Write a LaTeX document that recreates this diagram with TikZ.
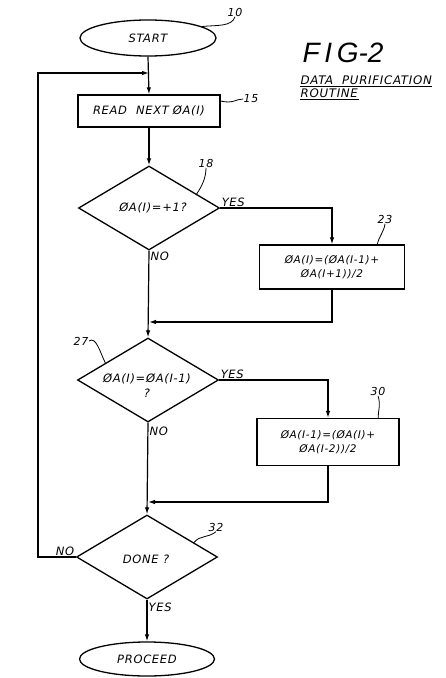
\documentclass[tikz,border=0pt]{standalone}
\usepackage{fontspec}
\setmainfont{DejaVu Sans}[LetterSpace=6]
\newfontfamily\figfont{Liberation Sans}
\usetikzlibrary{shapes.geometric,arrows.meta,calc}
\newcommand{\handsize}{\fontsize{11.5}{14}\selectfont}
\newcommand{\formsize}{\fontsize{10.5}{14}\selectfont}
\tikzset{
        every path/.style={line width=1.2pt},
        startstop/.style={ellipse, draw=black, line width=1.3pt, minimum width=136pt, minimum height=36pt, inner sep=0pt, font=\itshape\handsize},
        procbox/.style={rectangle, draw=black, line width=1.3pt, inner sep=2pt, align=center, font=\itshape\formsize},
        decision/.style={diamond, draw=black, line width=1.3pt, inner sep=0pt, minimum width=141pt, minimum height=84pt},
        flowtext/.style={inner sep=0pt, align=center, font=\itshape\handsize},
        flowline/.style={draw=black, line width=1.2pt},
        flowarrow/.style={flowline, -{Latex[length=7pt,width=4.5pt]}},
        answer/.style={inner sep=1pt, font=\itshape\fontsize{11.5}{13}\selectfont},
        refnum/.style={inner sep=0pt, font=\itshape\fontsize{11}{13}\selectfont},
        leader/.style={draw=black, line width=0.8pt},
        caption/.style={inner sep=0pt, font=\itshape\fontsize{11.8}{13}\selectfont}
          }

\begin{document}
\begin{tikzpicture}[x=1pt,y=-1pt]
        \useasboundingbox (0,0) rectangle (446,678);
        % blocks
        \node[startstop] (start) at (148,38) {START};
        \node[procbox, font=\itshape\handsize, minimum width=142pt, minimum height=32pt] (read) at (149,111) {READ\hspace{9pt}NEXT\hspace{4pt}ØA(I)};
        \node[decision] (d18) at (149,208) {};
        \node[flowtext] (t18) at (153,208) {ØA(I)=+1?};
        \node[procbox, minimum width=145pt, minimum height=44pt] (b23) at (332,267) {ØA(I)=(ØA(I-1)+\\ØA(I+1))/2};
        \node[decision] (d27) at (148,380) {};
        \node[flowtext] (t27) at (147,386) {ØA(I)=ØA(I-1)\\[1pt]?};
        \node[procbox, minimum width=142pt, minimum height=47pt] (b30) at (328,442) {ØA(I-1)=(ØA(I)+\\ØA(I-2))/2};
        \node[decision] (d32) at (147,557) {};
        \node[flowtext] (t32) at (146,559) {DONE ?};
        \node[startstop, minimum width=135pt, minimum height=34pt] (proceed) at (147,659) {PROCEED};

        % junctions
        \coordinate (j0) at (149,73);
        \coordinate (j1) at (149,322);
        \coordinate (j2) at (148,502);
        \coordinate (loopl) at (38,557);

        % flow
        \draw[flowarrow] (start.south) -- (read.north);
        \draw[flowarrow] (read.south) -- (d18.north);
        \draw[flowarrow] (d18.east) -- (b23.north |- d18.east) -- (b23.north);
        \draw[flowarrow] (d18.south) -- (d27.north);
        \draw[flowarrow] (b23.south) -- (b23.south |- j1) -- (j1);
        \draw[flowarrow] (d27.east) -- (b30.north |- d27.east) -- (b30.north);
        \draw[flowarrow] (d27.south) -- (d32.north);
        \draw[flowarrow] (b30.south) -- (b30.south |- j2) -- (j2);
        \draw[flowarrow] (d32.west) -- (loopl) -- (loopl |- j0) -- (j0);
        \draw[flowarrow] (d32.south) -- (proceed.north);

        % yes / no
        \node[answer, anchor=south west] (y18) at (d18.east) {YES};
        \node[answer, anchor=north west] (n18) at (d18.south) {NO};
        \node[answer, anchor=south west] (y27) at (d27.east) {YES};
        \node[answer, anchor=north west] (n27) at ([yshift=-3pt]d27.south) {NO};
        \node[answer, anchor=south east] (n32) at (d32.west) {NO};
        \node[answer, anchor=north west] (y32) at ([yshift=-2pt]d32.south) {YES};

        % reference numerals
        \node[refnum] (r10) at (235,12) {10};
        \node[refnum] (r15) at (251,99) {15};
        \node[refnum] (r18) at (206,163) {18};
        \node[refnum] (r23) at (385,219) {23};
        \node[refnum] (r27) at (81,341) {27};
        \node[refnum] (r30) at (378,391) {30};
        \node[refnum] (r32) at (216,527) {32};
        \draw[leader] (start.12) .. controls (216,25) and (232,27) .. (r10.south);
        \draw[leader] ($(read.north east)!0.2!(read.south east)$) .. controls (233,104) and (236,99) .. (r15.west);
        \draw[leader] ($(d18.north)!0.67!(d18.east)$) .. controls (202,186) and (206,178) .. (r18.south);
        \draw[leader] ($(b23.north west)!0.81!(b23.north east)$) .. controls (379,236) and (384,232) .. (r23.south);
        \draw[leader] (r27.east) .. controls (96,336) and (100,352) .. ($(d27.west)!0.40!(d27.north)$);
        \draw[leader] ($(b30.north west)!0.85!(b30.north east)$) .. controls (378,411) and (381,405) .. (r30.south);
        \draw[leader] ($(d32.north)!0.66!(d32.east)$) .. controls (200,535) and (208,538) .. (r32.south);

        % figure caption
        \node[anchor=west, inner sep=0pt, font=\figfont\itshape\fontsize{28}{30}\selectfont] (fig) at (302,53) {F\,I\,G-2};
        \node[caption, anchor=base west] (cap1) at (300,84) {DATA\ \ PURIFICATION};
        \node[caption, anchor=base west] (cap2) at (300,97) {ROUTINE};
        \draw[line width=0.9pt] ([yshift=-2pt]cap1.base west) -- ([yshift=-2pt]cap1.base east);
        \draw[line width=0.9pt] ([yshift=-2pt]cap2.base west) -- ([yshift=-2pt]cap2.base east);
      \end{tikzpicture}
\end{document}
